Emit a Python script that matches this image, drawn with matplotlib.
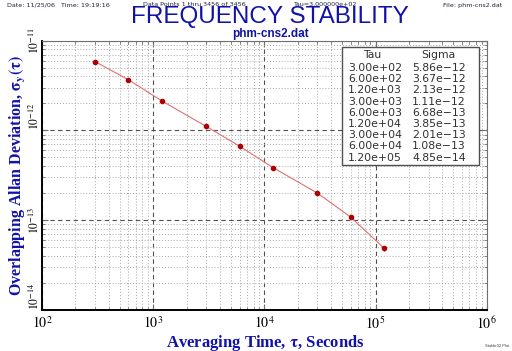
import matplotlib
matplotlib.use("Agg")
import matplotlib.pyplot as plt
from matplotlib.ticker import LogLocator, NullFormatter, FixedLocator

tau = [3.00e+02, 6.00e+02, 1.20e+03, 3.00e+03, 6.00e+03, 1.20e+04, 3.00e+04, 6.00e+04, 1.20e+05]
sigma = [5.86e-12, 3.67e-12, 2.13e-12, 1.11e-12, 6.68e-13, 3.85e-13, 2.01e-13, 1.08e-13, 4.85e-14]
sigma_err = [0.08e-12, 0.07e-12, 0.05e-12, 0.03e-12, 0.02e-12, 0.15e-13, 0.08e-13, 0.06e-13, 0.35e-14]

x_ticks = [1e2, 1e3, 1e4, 1e5, 1e6]
x_labels = [r"$10^{2}$", r"$10^{3}$", r"$10^{4}$", r"$10^{5}$", r"$10^{6}$"]
y_ticks = [1e-14, 1e-13, 1e-12, 1e-11]
y_labels = [r"$10^{-14}$", r"$10^{-13}$", r"$10^{-12}$", r"$10^{-11}$"]

blue = "#1212a8"
plt.rcParams["mathtext.fontset"] = "stix"

fig = plt.figure(figsize=(5.12, 3.51), dpi=100)
fig.subplots_adjust(left=0.082, right=0.9506, top=0.884, bottom=0.1168)
ax = fig.add_subplot(111)

ax.set_xscale("log")
ax.set_yscale("log")
ax.set_xlim(1e2, 1e6)
ax.set_ylim(1e-14, 1e-11)

# grid
ax.xaxis.set_major_locator(FixedLocator(x_ticks))
ax.yaxis.set_major_locator(FixedLocator(y_ticks))
ax.xaxis.set_minor_locator(LogLocator(base=10, subs=range(2, 10), numticks=20))
ax.yaxis.set_minor_locator(LogLocator(base=10, subs=range(2, 10), numticks=20))
ax.xaxis.set_minor_formatter(NullFormatter())
ax.yaxis.set_minor_formatter(NullFormatter())
ax.grid(which="major", color="#505050", linestyle=(0, (4, 3)), linewidth=0.8)
ax.grid(which="minor", color="#a8a8a8", linestyle=(0, (1, 2)), linewidth=0.7)

ax.plot(tau, sigma, color="#e07070", linewidth=0.8, zorder=3)
ax.errorbar(tau, sigma, yerr=sigma_err, fmt="o", color="#b00000", markersize=3.0,
            elinewidth=0.8, capsize=0, zorder=4)

ax.set_xticklabels(x_labels, fontsize=10)
ax.set_yticklabels(y_labels, fontsize=8.5, rotation=90, va="center")
for lbl, va in zip(ax.get_yticklabels(), ["bottom", "center", "bottom", "center"]):
    lbl.set_va(va)
ax.tick_params(which="both", direction="in", top=True, right=True, color="#707070")
ax.tick_params(which="major", length=4)
ax.tick_params(which="minor", length=2)
ax.tick_params(axis="x", pad=4)
ax.tick_params(axis="y", pad=0)
for s in ["top", "right"]:
    ax.spines[s].set_color("#707070")
    ax.spines[s].set_linewidth(0.8)
for s in ["left", "bottom"]:
    ax.spines[s].set_color("black")
    ax.spines[s].set_linewidth(1.4)

ax.set_xlabel(r"Averaging Time, $\mathbf{\tau}$, Seconds", family="Liberation Serif",
              fontweight="bold", fontsize=12, color=blue)
ax.xaxis.set_label_coords(223 / 444.7, -22.5 / 269.3)
ax.set_ylabel(r"Overlapping Allan Deviation, $\mathbf{\sigma_y(\tau)}$", family="Liberation Serif",
              fontweight="bold", fontsize=11.5, color=blue)
ax.yaxis.set_label_coords(-14 / 444.7, 0.5)

# table box
box_x0, box_x1 = 341.7 / 512, 479 / 512
box_y0, box_y1 = 1 - 165 / 351, 1 - 47 / 351
fig.patches.append(plt.Rectangle((box_x0, box_y0), box_x1 - box_x0, box_y1 - box_y0,
                                 transform=fig.transFigure, facecolor="white",
                                 edgecolor="#505050", linewidth=1.0, zorder=5))
tfont = dict(family="DejaVu Sans", fontsize=7.8, color="#303030", zorder=6)
fig.text(372 / 512, 1 - 55.5 / 351, "Tau", ha="center", va="center", **tfont)
fig.text(438 / 512, 1 - 55.5 / 351, "Sigma", ha="center", va="center", **tfont)
for i, (t, s) in enumerate(zip(tau, sigma)):
    yy = 1 - (68 + i * 11.2) / 351
    fig.text(375 / 512, yy, f"{t:.2e}", ha="center", va="center", **tfont)
    fig.text(439 / 512, yy, f"{s:.2e}".replace("-", "\u2212"), ha="center", va="center", **tfont)

# titles and header
fig.text(270 / 512, 1 - 17.5 / 351, "FREQUENCY STABILITY", ha="center", va="center",
         family="Liberation Sans", fontsize=17.5, color=blue)
fig.text(270 / 512, 1 - 33.5 / 351, "phm-cns2.dat", ha="center", va="center",
         family="Liberation Sans", fontweight="bold", fontsize=8.5, color=blue)
hfont = dict(family="DejaVu Sans", fontsize=4.6, color="#202040", va="center")
fig.text(7 / 512, 1 - 5 / 351, "Date: 11/25/06   Time: 19:19:16", ha="left", **hfont)
fig.text(143 / 512, 1 - 5 / 351, "Data Points 1 thru 3456 of 3456", ha="left", **hfont)
fig.text(293 / 512, 1 - 5 / 351, "Tau=3.000000e+02", ha="left", **hfont)
fig.text(502 / 512, 1 - 5 / 351, "File: phm-cns2.dat", ha="right", **hfont)
fig.text(509 / 512, 1 - 346 / 351, "Stable32 Plot", ha="right", va="center",
         family="Liberation Sans", fontsize=3, color="#404040")

fig.savefig("out.png", dpi=100, facecolor="white")
